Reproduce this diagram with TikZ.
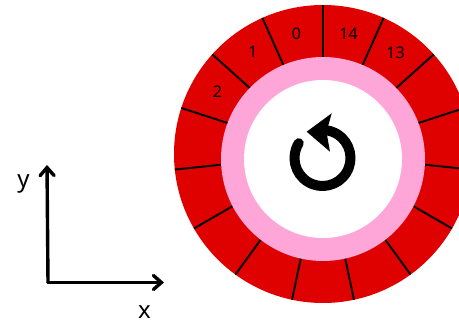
\documentclass[tikz,border=0pt]{standalone}
\usepackage{fontspec}
\setmainfont{Noto Sans}
\usetikzlibrary{arrows.meta}

\definecolor{ringred}{HTML}{DF0000}
\definecolor{ringpink}{HTML}{FFA6D9}

\begin{document}
\begin{tikzpicture}[
        x=1pt,
        y=1pt,
        >={Straight Barb[length=8pt,width=14pt,line cap=round]},
        disc/.style={
            circle,
            fill,
            inner sep=0pt,
            outer sep=0pt
        },
        spoke/.style={
            line width=1.9pt
        },
        axis/.style={
            ->,
            line width=3.4pt,
            line cap=round
        },
        seglabel/.style={
            font=\fontsize{16}{18}\selectfont,
            inner sep=0pt
        },
        axislabel/.style={
            font=\fontsize{24}{26}\selectfont,
            inner sep=0pt
        }
    ]
    \clip (0,0) rectangle (459,322);

    % Discs
    \node[disc, fill=ringred, minimum size=298pt] (outer) at (323,168) {};
    \foreach \a in {0,...,14} {
        \pgfmathsetmacro{\ang}{90+24*\a}
        \draw[spoke] ([shift={(\ang:85)}]outer.center) -- (outer.\ang);
    }
    \node[disc, fill=ringpink, minimum size=204pt] (middle) at (323,163) {};
    \node[disc, fill=white, minimum size=158pt] (inner) at (323,163) {};

    % Segment labels
    \node[seglabel] (seg0) at (296.5,288) {0};
    \node[seglabel] (seg14) at (348.5,288) {14};
    \node[seglabel] (seg13) at (395.5,269) {13};
    \node[seglabel] (seg1) at (253,270) {1};
    \node[seglabel] (seg2) at (217.5,230) {2};

    % Rotation mark
    \coordinate (turn) at (322.5,164);
    \draw[line width=10pt, line cap=round] ([shift={(148:28)}]turn) arc[start angle=148, end angle=445, radius=28];
    \coordinate (tip) at (306.7,190.3);
    \coordinate (barb top) at (331.7,208.7);
    \coordinate (notch) at (326.5,190);
    \coordinate (barb low) at (330,170.3);
    \fill (tip) -- (barb top) -- (notch) -- (barb low) -- cycle;

    % Axes
    \coordinate (origin) at (48,39.5);
    \coordinate (y end) at (47,157);
    \coordinate (x end) at (164,39.5);
    \draw[axis] (origin) -- (y end);
    \draw[axis] (origin) -- (x end);
    \node[axislabel] (y label) at (23.5,138.5) {y};
    \node[axislabel] (x label) at (144.5,9.5) {x};

    \end{tikzpicture}
\end{document}
